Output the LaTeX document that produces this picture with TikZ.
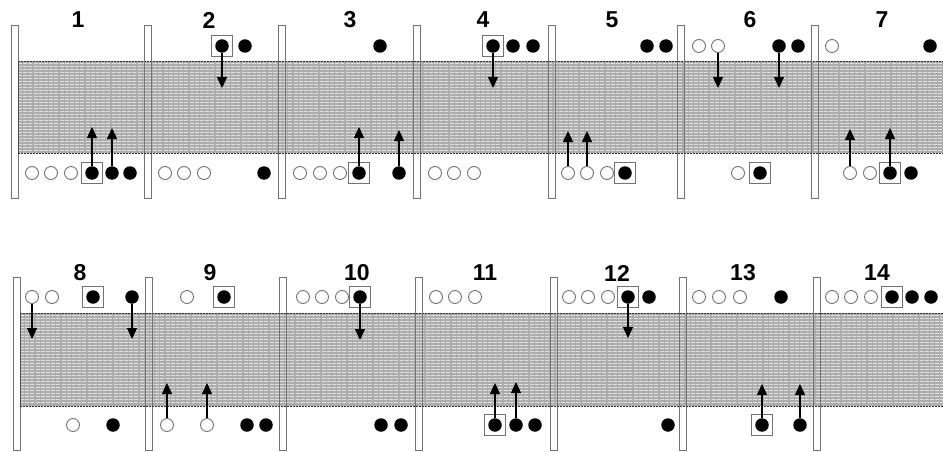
\documentclass[tikz,border=0pt]{standalone}
\usepackage{fontspec}
\setmainfont{Liberation Sans}
\usetikzlibrary{arrows.meta}
\newcommand\Od[3]{\node[od] (#1) at (#2,#3) {};}
\newcommand\Fd[3]{\node[fd] (#1) at (#2,#3) {};}
\newcommand\Bd[3]{\node[bx] (#1box) at (#2,#3) {};\node[fd] (#1) at (#2,#3) {};}
\newcommand\Mv[4]{\coordinate (#1end) at (#2,#3);\draw[mv] (#1.#4) -- (#1end);}
\newcommand\Band[3]{%
  \fill[black!32] (#1,#2) rectangle (943,#3);
  \foreach \yy in {1,...,30}{\draw[white!88!black,line width=1pt,dash pattern=on 4pt off 1.2pt] (#1,#2+3*\yy-0.5) -- (943,#2+3*\yy-0.5);}
  \draw[black!80,line width=0.9pt,dash pattern=on 2pt off 1pt] (#1,#2) -- (943,#2) (#1,#3) -- (943,#3);
  \draw[black!70,line width=0.8pt] (#1,#2) -- (#1,#3);}
\begin{document}
\begin{tikzpicture}[x=1pt,y=-1pt,
 od/.style={circle,draw=black!55,line width=0.9pt,fill=white,minimum size=13pt,inner sep=0pt},
 fd/.style={circle,fill=black,minimum size=13.5pt,inner sep=0pt},
 bx/.style={draw=black!55,line width=0.9pt,minimum size=21pt,inner sep=0pt,fill=white},
 lbl/.style={font=\fontsize{23}{23}\selectfont\bfseries,inner sep=0pt},
 barbox/.style={draw=black!55,line width=0.8pt,fill=white},
 barline/.style={draw=black!55,line width=0.8pt},
 mv/.style={line width=1.3pt,-{Triangle[width=10pt,length=11pt]}}
]
\useasboundingbox (0,0) rectangle (943,452);
% ---- vertical bars (behind) ----
\foreach \x in {15,147.5,282,417,552,681,815}{\draw[barbox] (\x-3.5,25) rectangle (\x+3.5,198);}
\foreach \x in {17,149,283,419,554,683,817}{\draw[barbox] (\x-3.5,277) rectangle (\x+3.5,450);}
% ---- bands ----
\Band{18}{61}{153}
\Band{20}{313}{406}
\foreach \x in {147.5,282,417,552,681,815}{\draw[barline] (\x-3.5,61) -- (\x-3.5,153) (\x+3.5,61) -- (\x+3.5,153);}
\foreach \x in {149,283,419,554,683,817}{\draw[barline] (\x-3.5,313) -- (\x-3.5,406) (\x+3.5,313) -- (\x+3.5,406);}
% ---- labels ----
\node[lbl] (L1) at (78,20) {1};
\node[lbl] (L2) at (209,20) {2};
\node[lbl] (L3) at (350,20) {3};
\node[lbl] (L4) at (483,20) {4};
\node[lbl] (L5) at (612,20) {5};
\node[lbl] (L6) at (750,20) {6};
\node[lbl] (L7) at (882,20) {7};
\node[lbl] (L8) at (80,273) {8};
\node[lbl] (L9) at (210,273) {9};
\node[lbl] (L10) at (357,273) {10};
\node[lbl] (L11) at (485,273) {11};
\node[lbl] (L12) at (617,273) {12};
\node[lbl] (L13) at (743,273) {13};
\node[lbl] (L14) at (877,273) {14};
% ---- panel 1 ----
\Od{p1o1}{32}{173}\Od{p1o2}{51}{173}\Od{p1o3}{71}{173}
\Bd{a1}{92}{173}\Fd{a2}{112}{173}\Fd{p1f3}{130}{173}
\Mv{a1}{92}{127}{north}\Mv{a2}{112}{128}{north}
% ---- panel 2 ----
\Bd{b1}{222}{46}\Fd{p2f2}{245}{46}
\Mv{b1}{222}{88}{south}
\Od{p2o1}{165}{173}\Od{p2o2}{184}{173}\Od{p2o3}{204}{173}\Fd{p2f3}{264}{173}
% ---- panel 3 ----
\Fd{p3f1}{380}{46}
\Od{p3o1}{300}{173}\Od{p3o2}{320}{173}\Od{p3o3}{340}{173}
\Bd{c1}{359}{173}\Fd{c2}{399}{173}
\Mv{c1}{359}{127}{north}\Mv{c2}{399}{130}{north}
% ---- panel 4 ----
\Bd{d1}{493}{46}\Fd{p4f2}{513}{46}\Fd{p4f3}{533}{46}
\Mv{d1}{493}{88}{south}
\Od{p4o1}{435}{173}\Od{p4o2}{454}{173}\Od{p4o3}{474}{173}
% ---- panel 5 ----
\Fd{p5f1}{647}{46}\Fd{p5f2}{666}{46}
\Od{e1}{568}{173}\Od{e2}{587}{173}\Od{p5o3}{607}{173}\Bd{p5b}{625}{173}
\Mv{e1}{568}{131}{north}\Mv{e2}{587}{131}{north}
% ---- panel 6 ----
\Od{p6o1}{699}{46}\Od{f1}{718}{46}\Fd{f2}{779}{46}\Fd{p6f2}{798}{46}
\Mv{f1}{718}{88}{south}\Mv{f2}{779}{88}{south}
\Od{p6o3}{738}{173}\Bd{p6b}{760}{173}
% ---- panel 7 ----
\Od{p7o1}{832}{46}\Fd{p7f1}{930}{46}
\Od{g1}{850}{173}\Od{p7o2}{870}{173}\Bd{g2}{890}{173}\Fd{p7f2}{911}{173}
\Mv{g1}{850}{129}{north}\Mv{g2}{890}{128}{north}
% ---- panel 8 ----
\Od{h1}{32}{297}\Od{p8o2}{52}{297}\Bd{p8b}{93}{297}\Fd{h2}{132}{297}
\Mv{h1}{32}{339}{south}\Mv{h2}{132}{339}{south}
\Od{p8o3}{73}{425}\Fd{p8f}{113}{425}
% ---- panel 9 ----
\Od{p9o1}{187}{297}\Bd{p9b}{224}{297}
\Od{i1}{167}{425}\Od{i2}{207}{425}\Fd{p9f1}{247}{425}\Fd{p9f2}{266}{425}
\Mv{i1}{167}{383}{north}\Mv{i2}{207}{383}{north}
% ---- panel 10 ----
\Od{p10o1}{303}{297}\Od{p10o2}{322}{297}\Od{p10o3}{342}{297}\Bd{j1}{360}{297}
\Mv{j1}{360}{340}{south}
\Fd{p10f1}{381}{425}\Fd{p10f2}{401}{425}
% ---- panel 11 ----
\Od{p11o1}{436}{297}\Od{p11o2}{455}{297}\Od{p11o3}{475}{297}
\Bd{k1}{495}{425}\Fd{k2}{516}{425}\Fd{p11f}{535}{425}
\Mv{k1}{495}{383}{north}\Mv{k2}{516}{382}{north}
% ---- panel 12 ----
\Od{p12o1}{569}{297}\Od{p12o2}{588}{297}\Od{p12o3}{608}{297}\Bd{l1}{628}{297}\Fd{p12f}{649}{297}
\Mv{l1}{628}{338}{south}
\Fd{p12f2}{668}{425}
% ---- panel 13 ----
\Od{p13o1}{699}{297}\Od{p13o2}{719}{297}\Od{p13o3}{740}{297}\Fd{p13f}{781}{297}
\Bd{m1}{762}{425}\Fd{m2}{800}{425}
\Mv{m1}{762}{384}{north}\Mv{m2}{800}{384}{north}
% ---- panel 14 ----
\Od{p14o1}{832}{297}\Od{p14o2}{851}{297}\Od{p14o3}{871}{297}\Bd{p14b}{892}{297}\Fd{p14f1}{912}{297}\Fd{p14f2}{931}{297}
\end{tikzpicture}
\end{document}
